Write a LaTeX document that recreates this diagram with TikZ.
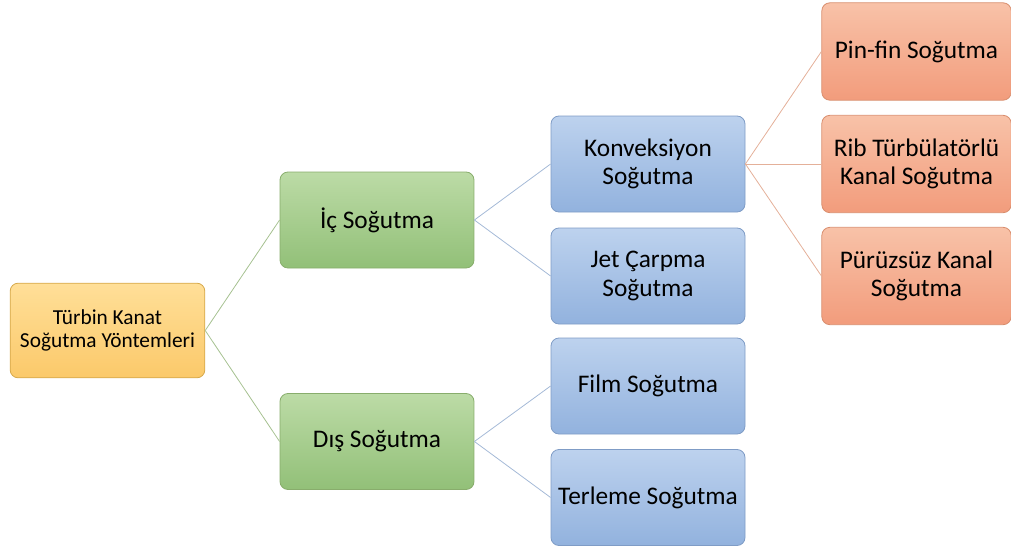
\documentclass[tikz,border=0pt]{standalone}
\usepackage{fontspec}
\setmainfont{Carlito}
\usetikzlibrary{positioning}
\definecolor{RootTop}{HTML}{FFDF98}
\definecolor{RootBot}{HTML}{FBC96A}
\definecolor{RootLine}{HTML}{D6A84A}
\definecolor{GreenTop}{HTML}{BCDBA6}
\definecolor{GreenBot}{HTML}{92C078}
\definecolor{GreenLine}{HTML}{88AD6C}
\definecolor{BlueTop}{HTML}{BDD2EE}
\definecolor{BlueBot}{HTML}{92B2DE}
\definecolor{BlueLine}{HTML}{7F9CC6}
\definecolor{SalmonTop}{HTML}{F8C2A8}
\definecolor{SalmonBot}{HTML}{F29C7C}
\definecolor{SalmonLine}{HTML}{D98E6E}
\tikzset{
  rootbox/.style={draw=RootLine,top color=RootTop,bottom color=RootBot,
                  rounded corners=6pt,minimum width=146pt,minimum height=71pt,
                  font=\fontsize{16}{17.5}\selectfont,align=center,line width=0.6pt},
  gbox/.style={draw=GreenLine,top color=GreenTop,bottom color=GreenBot,
               rounded corners=6pt,minimum width=145.5pt,minimum height=72pt,
               font=\fontsize{19}{21.5}\selectfont,align=center,line width=0.6pt},
  bbox/.style={draw=BlueLine,top color=BlueTop,bottom color=BlueBot,
               rounded corners=6pt,minimum width=145.5pt,minimum height=72pt,
               font=\fontsize{19}{21.5}\selectfont,align=center,line width=0.6pt},
  sbox/.style={draw=SalmonLine,top color=SalmonTop,bottom color=SalmonBot,
               rounded corners=6pt,minimum width=142pt,minimum height=73pt,
               font=\fontsize{19}{21.5}\selectfont,align=center,line width=0.6pt},
  lg/.style={draw=GreenLine!75,line width=0.6pt},
  lb/.style={draw=BlueLine!70,line width=0.6pt},
  ls/.style={draw=SalmonLine!70,line width=0.6pt},
}
\begin{document}
\begin{tikzpicture}[x=0.75pt,y=-0.75pt]
\useasboundingbox (0,0) rectangle (1011,546);
\node[rootbox] (root) at (107.5,330.5) {Türbin Kanat\\Soğutma Yöntemleri};
\node[gbox] (ic) at (377,220) {İç Soğutma};
\node[gbox] (dis) at (377,441.5) {Dış Soğutma};
\node[bbox] (konv) at (648,164) {Konveksiyon\\Soğutma};
\node[bbox] (jet) at (648,276) {Jet Çarpma\\Soğutma};
\node[bbox] (film) at (648,386) {Film Soğutma};
\node[bbox] (terl) at (648,497.5) {Terleme Soğutma};
\node[sbox] (pin) at (916.5,51.5) {Pin-fin Soğutma};
\node[sbox] (rib) at (916.5,164) {Rib Türbülatörlü\\Kanal Soğutma};
\node[sbox] (puru) at (916.5,276) {Pürüzsüz Kanal\\Soğutma};

\draw[lg] (root.east)--(ic.west);
\draw[lg] (root.east)--(dis.west);
\draw[lb] (ic.east)--(konv.west);
\draw[lb] (ic.east)--(jet.west);
\draw[lb] (dis.east)--(film.west);
\draw[lb] (dis.east)--(terl.west);
\draw[ls] (konv.east)--(pin.west);
\draw[ls] (konv.east)--(rib.west);
\draw[ls] (konv.east)--(puru.west);
\end{tikzpicture}
\end{document}
